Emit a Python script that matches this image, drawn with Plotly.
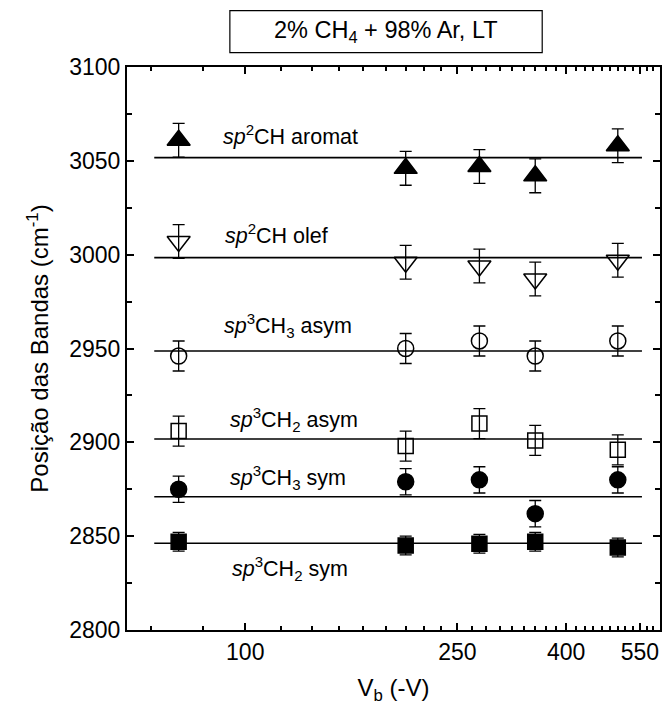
import math
import plotly.graph_objects as go

# ---------------- data ----------------
vb = [75, 200, 275, 350, 500]

aromat = [3061, 3046, 3047, 3042, 3058]
aromat_err = [9, 9, 9, 9, 9]
olef = [3007, 2996, 2994, 2987, 2997]
olef_err = [9, 9, 9, 9, 9]
ch3_asym = [2946, 2950, 2954, 2946, 2954]
ch3_asym_err = [8, 8, 8, 8, 8]
ch2_asym = [2906, 2898, 2910, 2901, 2896]
ch2_asym_err = [8, 8, 8, 8, 8]
ch3_sym = [2875, 2879, 2880, 2862, 2880]
ch3_sym_err = [7, 7, 7, 7, 7]
ch2_sym = [2847, 2845, 2846, 2847, 2844]
ch2_sym_err = [5, 5, 5, 5, 5]

# mean lines
line_x = [67.5, 555]
line_levels = [3051.7, 2998.4, 2948.7, 2901.8, 2871.0, 2846.2]

x_tickvals = [100, 250, 400, 550]
x_ticktext = ["100", "250", "400", "550"]
x_minor = [round(100 / 6 * k, 3) for k in range(4, 37) if k not in (6, 15, 24, 33)]
y_tickvals = [2800, 2850, 2900, 2950, 3000, 3050, 3100]
y_ticktext = [str(v) for v in y_tickvals]

labels = [
    ("<i>sp</i><sup>2</sup>CH aromat", 0.177, 3064),
    ("<i>sp</i><sup>2</sup>CH olef", 0.180, 3011),
    ("<i>sp</i><sup>3</sup>CH<sub>3</sub> asym", 0.178, 2962),
    ("<i>sp</i><sup>3</sup>CH<sub>2</sub> asym", 0.189, 2912),
    ("<i>sp</i><sup>3</sup>CH<sub>3</sub> sym", 0.189, 2881),
    ("<i>sp</i><sup>3</sup>CH<sub>2</sub> sym", 0.193, 2833),
]

FONT = "Liberation Sans, Arial, sans-serif"

series = [
    (aromat, aromat_err, "triangle-up", 20),
    (olef, olef_err, "triangle-down-open", 20),
    (ch3_asym, ch3_asym_err, "circle-open", 16),
    (ch2_asym, ch2_asym_err, "square-open", 15),
    (ch3_sym, ch3_sym_err, "circle", 16),
    (ch2_sym, ch2_sym_err, "square", 15),
]

fig = go.Figure()

for lvl in line_levels:
    fig.add_trace(go.Scatter(
        x=line_x, y=[lvl, lvl], mode="lines",
        line=dict(color="black", width=1.6), showlegend=False, hoverinfo="skip"))

for vals, errs, sym, sz in series:
    fig.add_trace(go.Scatter(
        x=vb, y=vals, mode="markers",
        marker=dict(symbol=sym, size=sz, color="black",
                    line=dict(color="black", width=1.5)),
        error_y=dict(type="data", array=errs, visible=True,
                     color="black", thickness=1.3, width=6),
        showlegend=False))

for txt, xp, yv in labels:
    fig.add_annotation(text=txt, x=xp, y=yv, xref="paper", yref="y",
                       xanchor="left", yanchor="middle", showarrow=False,
                       font=dict(family=FONT, size=21.5, color="black"))

# title box
fig.add_shape(type="rect", xref="paper", yref="paper",
              x0=0.193, x1=0.779, y0=1.0254, y1=1.100,
              line=dict(color="black", width=1.2), fillcolor="white")
fig.add_annotation(text="2% CH<sub>4</sub> + 98% Ar, LT", x=0.486, y=1.0627,
                   xref="paper", yref="paper", xanchor="center", yanchor="middle",
                   showarrow=False, font=dict(family=FONT, size=23.5, color="black"))

axis_common = dict(
    showline=True, linecolor="black", linewidth=2, mirror="ticks",
    ticks="inside", tickcolor="black", tickwidth=1.5, ticklen=7,
    showgrid=False, zeroline=False,
    tickfont=dict(family=FONT, size=23, color="black"),
)

fig.update_xaxes(
    type="log", range=[math.log10(60), math.log10(600)],
    tickmode="array", tickvals=x_tickvals, ticktext=x_ticktext,
    minor=dict(tickmode="array", tickvals=x_minor, ticks="inside", ticklen=4,
               tickwidth=1.5, tickcolor="black", showgrid=False),
    title=dict(text="V<sub>b</sub> (-V)", font=dict(family=FONT, size=24, color="black"),
               standoff=16),
    automargin=False,
    **axis_common)

fig.update_yaxes(
    range=[2800, 3100],
    tickmode="array", tickvals=y_tickvals, ticktext=y_ticktext,
    minor=dict(dtick=25, tick0=2800, ticks="inside", ticklen=5,
               tickwidth=1.5, tickcolor="black", showgrid=False),
    title=dict(text="Posição das Bandas (cm<sup>-1</sup>)",
               font=dict(family=FONT, size=24, color="black"), standoff=14),
    automargin=False,
    **axis_common)

fig.update_layout(
    width=663, height=711,
    margin=dict(l=127, r=3, t=67, b=81),
    paper_bgcolor="white", plot_bgcolor="white",
    font=dict(family=FONT, color="black"),
    showlegend=False,
)

fig.write_html("out.html")
